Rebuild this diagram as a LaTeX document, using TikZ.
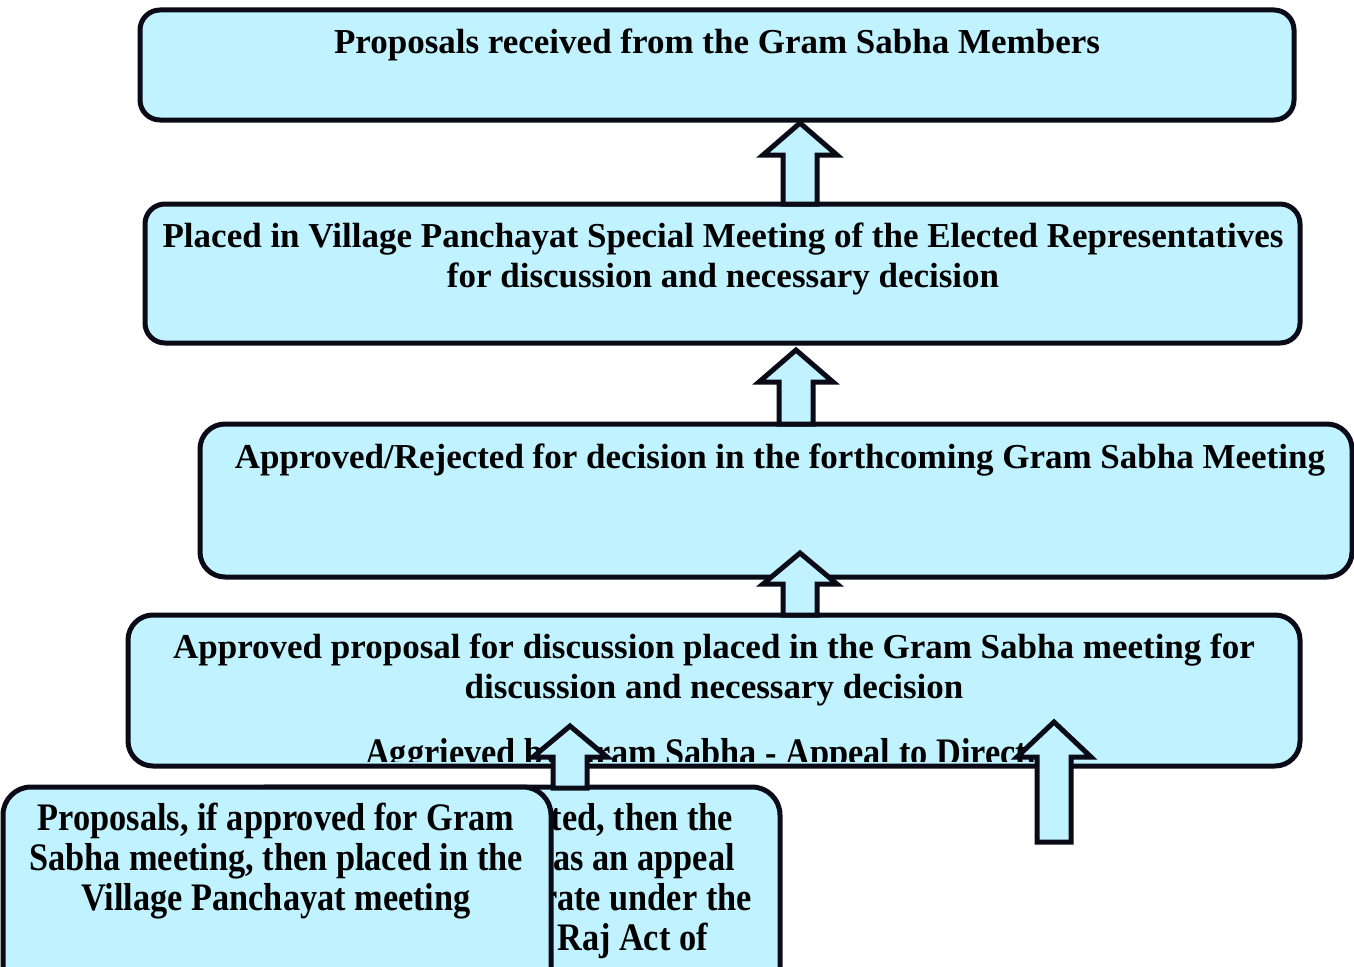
\documentclass[tikz,border=0pt]{standalone}
\usepackage{fontspec}
\setmainfont{Liberation Serif}
\newfontfamily\condfont[FakeStretch=0.88]{Liberation Serif}
\definecolor{boxfill}{HTML}{C0F3FF}
\definecolor{boxline}{HTML}{0B0B18}
\newcommand{\blockarrow}[4]{%
  \draw[barrow] (#1-17,#4) -- (#1-17,#3) -- (#1-37,#3) -- (#1,#2) -- (#1+37,#3) -- (#1+17,#3) -- (#1+17,#4) -- cycle;}
\begin{document}
\begin{tikzpicture}[x=1pt,y=-1pt,
  box/.style={draw=boxline, fill=boxfill, line width=5pt, rounded corners=20pt, inner sep=0pt, outer sep=0pt},
  txt/.style={anchor=base, inner sep=0pt, font=\fontsize{35}{40}\selectfont\bfseries},
  ctxt/.style={anchor=base, inner sep=0pt, font=\fontsize{39}{40}\condfont\bfseries},
  barrow/.style={draw=boxline, fill=boxfill, line width=5pt, line join=miter}]
\path[use as bounding box] (0,0) rectangle (1354,966);
\clip (0,0) rectangle (1354,966);
% boxes
\node[box, minimum width=1154pt, minimum height=110pt] (b1) at (717,65) {};
\node[box, minimum width=1155pt, minimum height=139pt] (b2) at (722.5,273.5) {};
\node[box, minimum width=1152pt, minimum height=153pt, rounded corners=25pt] (b3) at (776,500.5) {};
\node[box, minimum width=1172pt, minimum height=151pt, rounded corners=25pt] (b4) at (714,690.5) {};
% box texts
\node[txt] (t1) at (717,53) {Proposals received from the Gram Sabha Members};
\node[txt] (t2a) at (723,247) {Placed in Village Panchayat Special Meeting of the Elected Representatives};
\node[txt] (t2b) at (723,287) {for discussion and necessary decision};
\node[txt] (t3) at (780,468) {Approved/Rejected for decision in the forthcoming Gram Sabha Meeting};
\node[txt] (t4a) at (714,658) {Approved proposal for discussion placed in the Gram Sabha meeting for};
\node[txt] (t4b) at (714,698) {discussion and necessary decision};
\begin{scope}
  \clip (130,617) rectangle (1298,761);
  \node[ctxt, anchor=base west] (agg) at (365,765) {Aggrieved by Gram Sabha - Appeal to Director};
\end{scope}
% arrows between upper boxes
\blockarrow{800}{123}{155}{204}
\blockarrow{796}{350}{382}{424}
\blockarrow{800}{553}{584}{615}
% lower boxes
\node[box, minimum width=540pt, minimum height=220pt, rounded corners=28pt] (b5) at (510,897) {};
\node[ctxt, anchor=base east] (t5a) at (733,830) {ted, then the};
\node[ctxt, anchor=base east] (t5b) at (735,870) {as an appeal};
\node[ctxt, anchor=base east] (t5c) at (752,910) {rate under the};
\node[ctxt, anchor=base east] (t5d) at (708,950) {Raj Act of};
\node[box, minimum width=548pt, minimum height=220pt, rounded corners=28pt] (b6) at (277,897) {};
\node[ctxt] (t6a) at (276,830) {Proposals, if approved for Gram};
\node[ctxt] (t6b) at (276,870) {Sabha meeting, then placed in the};
\node[ctxt] (t6c) at (276,910) {Village Panchayat meeting};
% lower arrows
\blockarrow{570}{726}{757}{788}
\blockarrow{1054}{722}{757}{842}
\end{tikzpicture}
\end{document}
